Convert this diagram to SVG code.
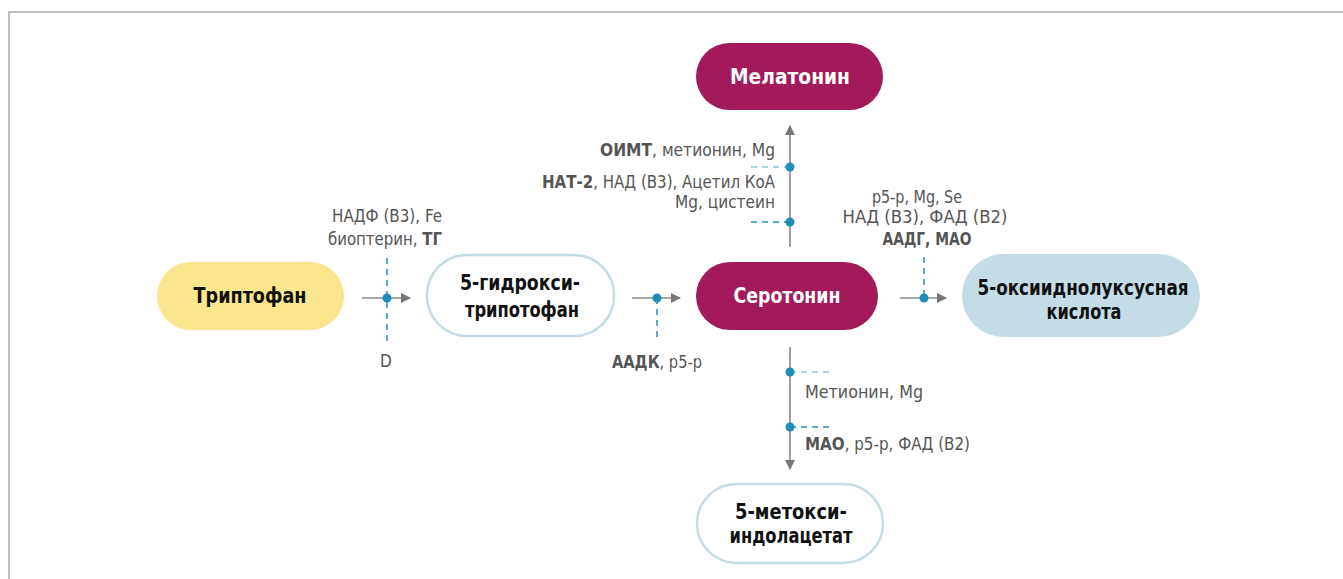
<svg xmlns="http://www.w3.org/2000/svg" width="1343" height="579" viewBox="0 0 1343 579">
<defs>
<style>
.lbl{font-family:"DejaVu Sans Condensed","DejaVu Sans",sans-serif;font-stretch:condensed;font-size:17px;fill:#555;}
.b{font-weight:bold;}
.nt{font-family:"DejaVu Sans Condensed","DejaVu Sans",sans-serif;font-stretch:condensed;font-size:22px;font-weight:bold;fill:#111;text-anchor:middle;}
.wt{fill:#fff;}
.ln{stroke:#888;stroke-width:1.6;fill:none;}
.dash{stroke:#2a8db0;stroke-width:1.5;stroke-dasharray:6,5;fill:none;}
.dashl{stroke:#8ec5da;stroke-width:1.5;stroke-dasharray:6,5;fill:none;}
.dot{fill:#1f8db5;}
</style>
<marker id="ah" viewBox="0 0 10 10" refX="9" refY="5" markerWidth="10" markerHeight="10" markerUnits="userSpaceOnUse" orient="auto">
<path d="M0,0 L10,5 L0,10 Z" fill="#777"/>
</marker>
</defs>
<rect width="1343" height="579" fill="#fff"/>
<path d="M9,579 V12 H1343" stroke="#aaa" stroke-width="1.5" fill="none"/>

<g id="node-tryptophan">
<rect x="157" y="262" width="187" height="68" rx="34" fill="#fbe58d"/>
<text class="nt" x="250" y="303" textLength="113" lengthAdjust="spacingAndGlyphs">Триптофан</text>
</g>
<g id="node-5htp">
<rect x="427" y="255" width="187" height="81" rx="40" fill="#fff" stroke="#c4dce6" stroke-width="2.5"/>
<text class="nt" x="520" y="290" textLength="120" lengthAdjust="spacingAndGlyphs">5-гидрокси-</text>
<text class="nt" x="522" y="317" textLength="114" lengthAdjust="spacingAndGlyphs">трипотофан</text>
</g>
<g id="node-serotonin">
<rect x="696" y="262" width="182" height="68" rx="34" fill="#a31a5b"/>
<text class="nt wt" x="787" y="303" textLength="107" lengthAdjust="spacingAndGlyphs">Серотонин</text>
</g>
<g id="node-melatonin">
<rect x="696" y="43" width="187" height="67" rx="33.5" fill="#a31a5b"/>
<text class="nt wt" x="790" y="84" textLength="120" lengthAdjust="spacingAndGlyphs">Мелатонин</text>
</g>
<g id="node-5hiaa">
<rect x="962" y="254" width="238" height="83" rx="41.5" fill="#c4dce6"/>
<text class="nt" x="1083" y="295" textLength="211" lengthAdjust="spacingAndGlyphs">5-оксииднолуксусная</text>
<text class="nt" x="1084" y="319" textLength="75" lengthAdjust="spacingAndGlyphs">кислота</text>
</g>
<g id="node-5mia">
<rect x="697" y="484" width="186" height="79" rx="39.5" fill="#fff" stroke="#c4dce6" stroke-width="2.5"/>
<text class="nt" x="791" y="519" textLength="112" lengthAdjust="spacingAndGlyphs">5-метокси-</text>
<text class="nt" x="791" y="543" textLength="123" lengthAdjust="spacingAndGlyphs">индолацетат</text>
</g>

<g id="connectors">
<line class="ln" x1="362" y1="298" x2="410" y2="298" marker-end="url(#ah)"/>
<line class="dash" x1="387" y1="258" x2="387" y2="342"/>
<circle class="dot" cx="387" cy="298" r="4.5"/>

<line class="ln" x1="632" y1="298" x2="680" y2="298" marker-end="url(#ah)"/>
<line class="dash" x1="657" y1="298" x2="657" y2="341"/>
<circle class="dot" cx="657" cy="298" r="4.5"/>

<line class="ln" x1="900" y1="298" x2="946" y2="298" marker-end="url(#ah)"/>
<line class="dash" x1="924" y1="257" x2="924" y2="298"/>
<circle class="dot" cx="924" cy="298" r="4.5"/>

<line class="ln" x1="790" y1="247" x2="790" y2="126" marker-end="url(#ah)"/>
<line class="dashl" x1="790" y1="167" x2="748" y2="167"/>
<line class="dash" x1="790" y1="222" x2="748" y2="222"/>
<circle class="dot" cx="790" cy="167" r="4.5"/>
<circle class="dot" cx="790" cy="222" r="4.5"/>

<line class="ln" x1="790" y1="347" x2="790" y2="469" marker-end="url(#ah)"/>
<line class="dashl" x1="790" y1="372" x2="833" y2="372"/>
<line class="dash" x1="790" y1="427" x2="833" y2="427"/>
<circle class="dot" cx="790" cy="372" r="4.5"/>
<circle class="dot" cx="790" cy="427" r="4.5"/>
</g>

<g id="labels">
<text class="lbl" x="387" y="222" text-anchor="middle" textLength="110" lengthAdjust="spacingAndGlyphs">НАДФ (В3), Fe</text>
<text class="lbl" x="385" y="245" text-anchor="middle" textLength="114" lengthAdjust="spacingAndGlyphs">биоптерин, <tspan class="b">ТГ</tspan></text>
<text class="lbl" x="386" y="367" text-anchor="middle">D</text>
<text class="lbl" x="657" y="368" text-anchor="middle" textLength="90" lengthAdjust="spacingAndGlyphs"><tspan class="b">ААДК</tspan>, p5-p</text>
<text class="lbl" x="775" y="156" text-anchor="end" textLength="175" lengthAdjust="spacingAndGlyphs"><tspan class="b">ОИМТ</tspan>, метионин, Mg</text>
<text class="lbl" x="775" y="188" text-anchor="end" textLength="233" lengthAdjust="spacingAndGlyphs"><tspan class="b">НАТ-2</tspan>, НАД (В3), Ацетил КоА</text>
<text class="lbl" x="775" y="208" text-anchor="end" textLength="100" lengthAdjust="spacingAndGlyphs">Mg, цистеин</text>
<text class="lbl" x="917" y="203" text-anchor="middle" textLength="90" lengthAdjust="spacingAndGlyphs">p5-p, Mg, Se</text>
<text class="lbl" x="925" y="223" text-anchor="middle" textLength="165" lengthAdjust="spacingAndGlyphs">НАД (В3), ФАД (В2)</text>
<text class="lbl b" x="927" y="245" text-anchor="middle" textLength="89" lengthAdjust="spacingAndGlyphs">ААДГ, МАО</text>
<text class="lbl" x="805" y="398" textLength="118" lengthAdjust="spacingAndGlyphs">Метионин, Mg</text>
<text class="lbl" x="805" y="450" textLength="165" lengthAdjust="spacingAndGlyphs"><tspan class="b">МАО</tspan>, p5-p, ФАД (В2)</text>
</g>
</svg>
